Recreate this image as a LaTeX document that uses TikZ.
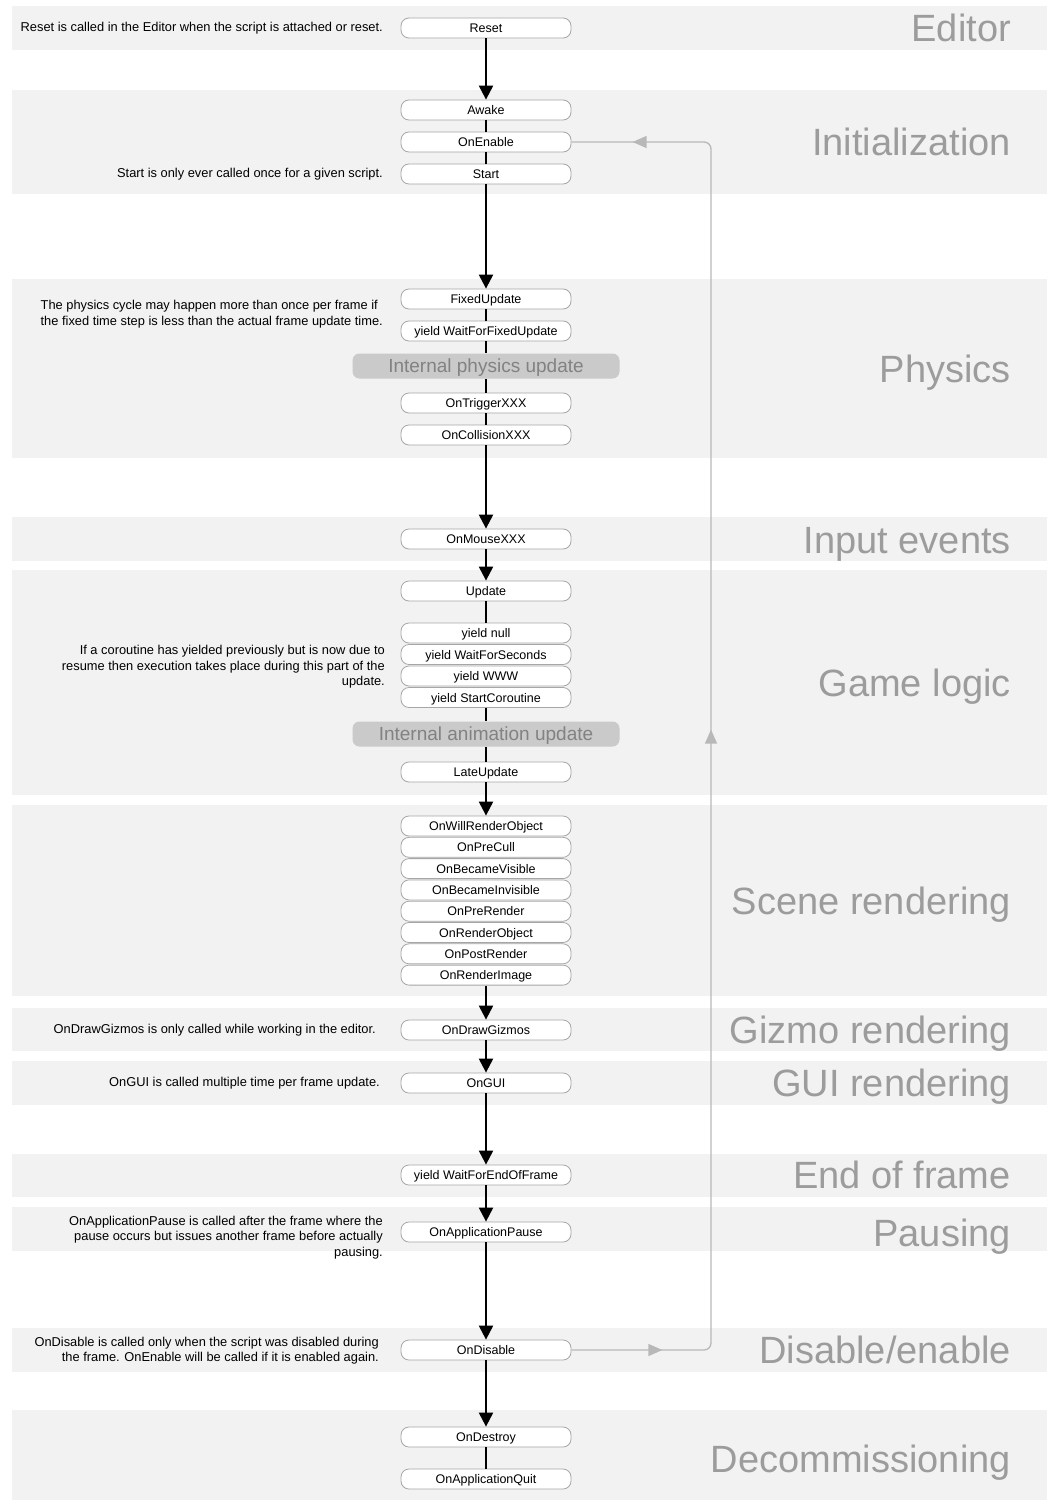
\documentclass[tikz,border=0pt]{standalone}
\usepackage{fontspec}
\setmainfont{Liberation Sans}
\usetikzlibrary{arrows.meta,decorations.markings}
\definecolor{bandgray}{HTML}{F2F2F2}
\definecolor{titlegray}{HTML}{9C9C9C}
\definecolor{boxborder}{HTML}{A6A6A6}
\definecolor{internalfill}{HTML}{CACACA}
\definecolor{internaltext}{HTML}{828282}
\definecolor{loopgray}{HTML}{B8B8B8}
\begin{document}
\begin{tikzpicture}[x=1pt, y=-1pt, font=\fontsize{12.5}{14}\selectfont,
  band/.style={fill=bandgray},
  phase/.style={anchor=east, inner sep=0pt, text=titlegray,
                font=\fontsize{38}{40}\selectfont, text height=27pt, text depth=0pt},
  event/.style={draw=boxborder, fill=white, line width=0.8pt, rounded corners=8pt,
                minimum width=170pt, minimum height=20pt, inner sep=0pt,
                text height=9pt, text depth=0pt},
  internal/.style={fill=internalfill, rounded corners=7pt, minimum width=267pt,
                   minimum height=25pt, inner sep=0pt, text=internaltext,
                   font=\fontsize{19}{21}\selectfont, text height=13.5pt, text depth=0pt},
  note/.style={anchor=east, align=right, inner sep=0pt,
               font=\fontsize{12.85}{15.5}\selectfont},
  flow/.style={-{Triangle[width=14pt,length=14pt]}, line width=2.2pt},
  link/.style={line width=2.2pt}]
  \useasboundingbox (0,0) rectangle (1052,1501);
  % phase bands
  \fill[band] (12,6) rectangle (1047,50);
  \fill[band] (12,90) rectangle (1047,194);
  \fill[band] (12,279) rectangle (1047,458);
  \fill[band] (12,517) rectangle (1047,561);
  \fill[band] (12,570) rectangle (1047,795);
  \fill[band] (12,805) rectangle (1047,996);
  \fill[band] (12,1008) rectangle (1047,1051);
  \fill[band] (12,1061) rectangle (1047,1105);
  \fill[band] (12,1154) rectangle (1047,1197);
  \fill[band] (12,1207) rectangle (1047,1251);
  \fill[band] (12,1328) rectangle (1047,1372);
  \fill[band] (12,1410) rectangle (1047,1500);
  % phase titles
  \node[phase] (teditor) at (1011,28) {Editor};
  \node[phase] (tinit) at (1011,142) {Initialization};
  \node[phase] (tphysics) at (1011,369) {Physics};
  \node[phase] (tinput) at (1011,540) {Input events};
  \node[phase] (tgame) at (1011,683) {Game logic};
  \node[phase] (tscene) at (1011,901) {Scene rendering};
  \node[phase] (tgizmo) at (1011,1030) {Gizmo rendering};
  \node[phase] (tgui) at (1011,1083) {GUI rendering};
  \node[phase] (tframe) at (1011,1175) {End of frame};
  \node[phase] (tpause) at (1011,1233) {Pausing};
  \node[phase] (tdisable) at (1011,1350) {Disable/enable};
  \node[phase] (tdecom) at (1011,1459) {Decommissioning};
  % event boxes
  \node[event] (reset) at (486,28) {Reset};
  \node[event] (awake) at (486,110) {Awake};
  \node[event] (onenable) at (486,142) {OnEnable};
  \node[event] (start) at (486,174) {Start};
  \node[event] (fixedupdate) at (486,299) {FixedUpdate};
  \node[event] (waitfixed) at (486,331) {yield WaitForFixedUpdate};
  \node[internal] (physupd) at (486,366) {Internal physics update};
  \node[event] (trigger) at (486,403) {OnTriggerXXX};
  \node[event] (collision) at (486,435) {OnCollisionXXX};
  \node[event] (mouse) at (486,539) {OnMouseXXX};
  \node[event] (update) at (486,591) {Update};
  \node[event] (ynull) at (486,633) {yield null};
  \node[event] (yseconds) at (486,654.5) {yield WaitForSeconds};
  \node[event] (ywww) at (486,676) {yield WWW};
  \node[event] (ycoroutine) at (486,697.5) {yield StartCoroutine};
  \node[internal] (animupd) at (486,734) {Internal animation update};
  \node[event] (lateupdate) at (486,772) {LateUpdate};
  \node[event] (willrender) at (486,826) {OnWillRenderObject};
  \node[event] (precull) at (486,847.3) {OnPreCull};
  \node[event] (visible) at (486,868.6) {OnBecameVisible};
  \node[event] (invisible) at (486,889.9) {OnBecameInvisible};
  \node[event] (prerender) at (486,911.2) {OnPreRender};
  \node[event] (renderobj) at (486,932.5) {OnRenderObject};
  \node[event] (postrender) at (486,953.8) {OnPostRender};
  \node[event] (renderimg) at (486,975.1) {OnRenderImage};
  \node[event] (gizmos) at (486,1030) {OnDrawGizmos};
  \node[event] (ongui) at (486,1083) {OnGUI};
  \node[event] (endframe) at (486,1175) {yield WaitForEndOfFrame};
  \node[event] (apppause) at (486,1232) {OnApplicationPause};
  \node[event] (ondisable) at (486,1350) {OnDisable};
  \node[event] (ondestroy) at (486,1437) {OnDestroy};
  \node[event] (appquit) at (486,1479) {OnApplicationQuit};
  % notes
  \node[note] (resetnote) at (383,28)
    {Reset is called in the Editor when the script is attached or reset.};
  \node[note] (startnote) at (383,174)
    {Start is only ever called once for a given script.};
  \node[note, align=left] (physnote) at (383,314)
    {The physics cycle may happen more than once per frame if\\
     the fixed time step is less than the actual frame update time.};
  \node[note] (coronote) at (385,667)
    {If a coroutine has yielded previously but is now due to\\
     resume then execution takes place during this part of the\\
     update.};
  \node[note] (gizmonote) at (376,1030)
    {OnDrawGizmos is only called while working in the editor.};
  \node[note] (guinote) at (380,1083)
    {OnGUI is called multiple time per frame update.};
  \node[note] (pausenote) at (383,1237.5)
    {OnApplicationPause is called after the frame where the\\
     pause occurs but issues another frame before actually\\
     pausing.};
  \node[note] (disablenote) at (379,1350.5)
    {OnDisable is called only when the script was disabled during\\
     the frame. OnEnable will be called if it is enabled again.};
  % connectors
  \draw[flow] (reset) -- (awake);
  \draw[link] (awake) -- (onenable);
  \draw[link] (onenable) -- (start);
  \draw[flow] (start) -- (fixedupdate);
  \draw[link] (fixedupdate) -- (waitfixed);
  \draw[link] (waitfixed) -- (physupd);
  \draw[link] (physupd) -- (trigger);
  \draw[link] (trigger) -- (collision);
  \draw[flow] (collision) -- (mouse);
  \draw[flow] (mouse) -- (update);
  \draw[link] (update) -- (ynull);
  \draw[link] (ycoroutine) -- (animupd);
  \draw[link] (animupd) -- (lateupdate);
  \draw[flow] (lateupdate) -- (willrender);
  \draw[flow] (renderimg) -- (gizmos);
  \draw[flow] (gizmos) -- (ongui);
  \draw[flow] (ongui) -- (endframe);
  \draw[flow] (endframe) -- (apppause);
  \draw[flow] (apppause) -- (ondisable);
  \draw[flow] (ondisable) -- (ondestroy);
  \draw[link] (ondestroy) -- (appquit);
  % re-enable loop
  \coordinate (loopbot) at (711,1350);
  \coordinate (looptop) at (711,142);
  \draw[loopgray, line width=1.3pt, rounded corners=7pt,
        postaction={decorate}, decoration={markings,
          mark=at position 91pt with {\arrow{Triangle[width=12pt,length=14pt]}},
          mark=at position 757pt with {\arrow{Triangle[width=12pt,length=14pt]}},
          mark=at position 1420pt with {\arrow{Triangle[width=12pt,length=14pt]}}}]
    (ondisable.east) -- (loopbot) -- (looptop) -- (onenable.east);
\end{tikzpicture}
\end{document}
